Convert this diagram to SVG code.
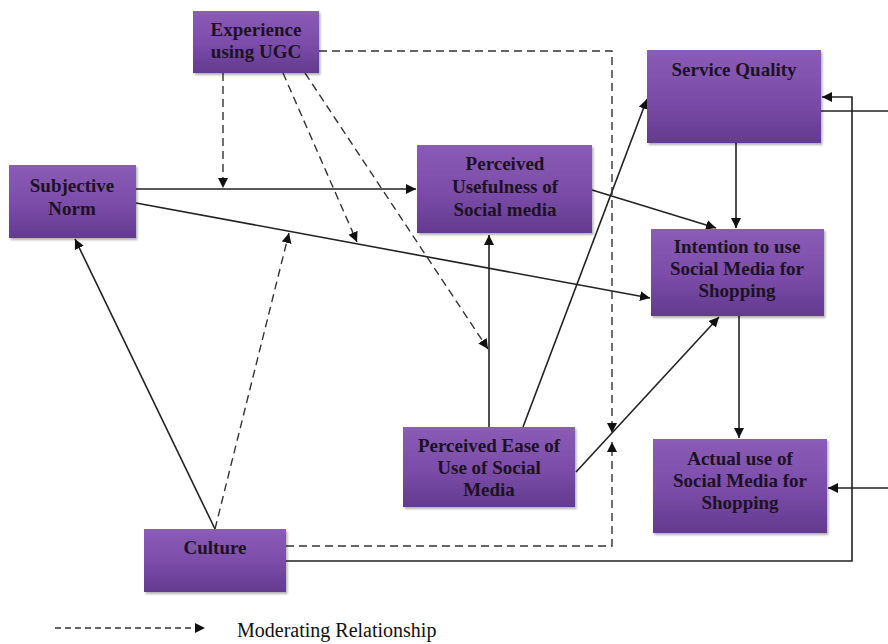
<svg xmlns="http://www.w3.org/2000/svg" width="888" height="644" viewBox="0 0 888 644">
<defs>
<linearGradient id="g" x1="0" y1="0" x2="0" y2="1">
<stop offset="0" stop-color="#8a5cb6"/>
<stop offset="0.55" stop-color="#7a4ca8"/>
<stop offset="1" stop-color="#633a8e"/>
</linearGradient>
<marker id="a" viewBox="0 0 10 10" refX="10" refY="5" markerWidth="10" markerHeight="10" markerUnits="userSpaceOnUse" orient="auto">
<path d="M0,0 L10,5 L0,10 z" fill="#111"/>
</marker>
<filter id="s" x="-10%" y="-10%" width="125%" height="130%">
<feDropShadow dx="1.5" dy="2" stdDeviation="1.2" flood-color="#000" flood-opacity="0.3"/>
</filter>
</defs>
<style>
.n rect{fill:url(#g);filter:url(#s)}
.n text{font-family:"Liberation Serif","Times New Roman",serif;font-weight:bold;font-size:19px;fill:#1d1224;text-anchor:middle}
.c{fill:none;stroke:#222;stroke-width:1.6}
.d{fill:none;stroke:#333;stroke-width:1.4;stroke-dasharray:8,5}
.legend{font-family:"Liberation Serif","Times New Roman",serif;font-size:20px;fill:#111}
</style>
<g id="connectors">
<line class="c" x1="136" y1="189" x2="416" y2="189" marker-end="url(#a)"/>
<line class="c" x1="136" y1="203" x2="650" y2="298" marker-end="url(#a)"/>
<line class="c" x1="215" y1="529" x2="75" y2="239" marker-end="url(#a)"/>
<line class="c" x1="489" y1="427" x2="489" y2="235" marker-end="url(#a)"/>
<line class="c" x1="592" y1="190" x2="716" y2="228" marker-end="url(#a)"/>
<line class="c" x1="736" y1="143" x2="736" y2="228" marker-end="url(#a)"/>
<line class="c" x1="523" y1="427" x2="647" y2="99" marker-end="url(#a)"/>
<line class="c" x1="576" y1="472" x2="719" y2="317" marker-end="url(#a)"/>
<line class="c" x1="739" y1="316" x2="739" y2="438" marker-end="url(#a)"/>
<polyline class="c" points="286,561 852,561 852,97 822,97" marker-end="url(#a)"/>
<line class="c" x1="888" y1="111" x2="821" y2="111"/>
<line class="c" x1="888" y1="488" x2="828" y2="488" marker-end="url(#a)"/>
<line class="d" x1="223" y1="73" x2="223" y2="188" marker-end="url(#a)"/>
<line class="d" x1="283" y1="73" x2="357" y2="242" marker-end="url(#a)"/>
<line class="d" x1="305" y1="73" x2="488" y2="349" marker-end="url(#a)"/>
<line class="d" x1="215" y1="529" x2="289" y2="233" marker-end="url(#a)"/>
<polyline class="d" points="319,51 612,51 612,433" marker-end="url(#a)"/>
<polyline class="d" points="286,546 612,546 612,442" marker-end="url(#a)"/>
</g>
<g id="experience" class="n"><rect x="193" y="11" width="126" height="62"/><text x="256" y="36">Experience</text><text x="256" y="58">using UGC</text></g>
<g id="subjective-norm" class="n"><rect x="9" y="165" width="127" height="73"/><text x="72" y="192">Subjective</text><text x="72" y="215">Norm</text></g>
<g id="perceived-usefulness" class="n"><rect x="417" y="145" width="175" height="88"/><text x="505" y="170">Perceived</text><text x="505" y="193">Usefulness of</text><text x="505" y="216">Social media</text></g>
<g id="service-quality" class="n"><rect x="647" y="50" width="174" height="93"/><text x="734" y="76">Service Quality</text></g>
<g id="intention" class="n"><rect x="651" y="229" width="173" height="87"/><text x="737" y="253">Intention to use</text><text x="737" y="275">Social Media for</text><text x="737" y="297">Shopping</text></g>
<g id="peou" class="n"><rect x="403" y="427" width="172" height="80"/><text x="489" y="452">Perceived Ease of</text><text x="489" y="474">Use of Social</text><text x="489" y="496">Media</text></g>
<g id="actual-use" class="n"><rect x="653" y="439" width="174" height="94"/><text x="740" y="465">Actual use of</text><text x="740" y="487">Social Media for</text><text x="740" y="509">Shopping</text></g>
<g id="culture" class="n"><rect x="144" y="529" width="142" height="63"/><text x="215" y="554">Culture</text></g>
<g id="legend">
<line class="d" x1="55" y1="628" x2="205" y2="628" marker-end="url(#a)" style="stroke-dasharray:6,4"/>
<text class="legend" x="237" y="637">Moderating Relationship</text>
</g>
</svg>
